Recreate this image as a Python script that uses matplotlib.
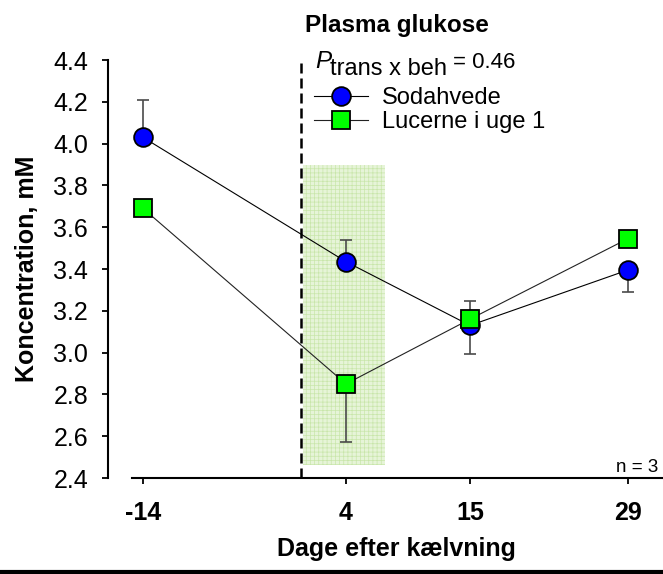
import matplotlib
matplotlib.use("Agg")
import matplotlib.pyplot as plt
from matplotlib.lines import Line2D

plt.rcParams['font.family'] = ['Liberation Sans', 'DejaVu Sans']
plt.rcParams['hatch.linewidth'] = 0.5

# data
days = [-14, 4, 15, 29]
day_labels = ['-14', '4', '15', '29']
soda = [4.03, 3.435, 3.13, 3.395]
soda_lo = [0, 0, 0.135, 0.105]
soda_hi = [0.18, 0.105, 0, 0]
lucerne = [3.69, 2.85, 3.16, 3.545]
luc_lo = [0, 0.28, 0, 0]
luc_hi = [0, 0, 0.085, 0]
yticks = [2.4, 2.6, 2.8, 3.0, 3.2, 3.4, 3.6, 3.8, 4.0, 4.2, 4.4]

# lucerne period (shaded) and calving day (dashed)
band_x = [0.2, 7.5]
band_y = [2.46, 3.9]
calving = 0

fig = plt.figure(figsize=(6.63, 5.74), dpi=100)
ax = fig.add_axes([131.7/663, 96/574, 530/663, 418/574])

ax.fill_between(band_x, band_y[0], band_y[1], facecolor='#e6f4d8',
                edgecolor='#c8e6aa', hatch='++++', linewidth=0, zorder=0)
ax.axvline(calving, color='black', lw=1.8, dashes=(4, 2), zorder=1)

ax.errorbar(days, soda, yerr=[soda_lo, soda_hi], fmt='none', ecolor='#4a4a4a',
            elinewidth=1.2, capsize=4.5, capthick=1.2, zorder=2)
ax.errorbar(days, lucerne, yerr=[luc_lo, luc_hi], fmt='none', ecolor='#4a4a4a',
            elinewidth=1.2, capsize=4.5, capthick=1.2, zorder=2)

l1, = ax.plot(days, soda, color='black', lw=0.8, marker='o', ms=13.5,
              mfc='#0000ff', mec='black', mew=1.3, zorder=3, label='Sodahvede')
l2, = ax.plot(days, lucerne, color='#222222', lw=0.8, marker='s', ms=12.3,
              mfc='#00ff00', mec='black', mew=1.3, zorder=4, label='Lucerne i uge 1')

ax.set_xlim(-15, 32)
ax.set_ylim(2.4, 4.4)
ax.set_xticks(days)
ax.set_xticklabels(day_labels, fontweight='bold')
ax.set_yticks(yticks)
ax.set_yticklabels(['%.1f' % v for v in yticks])

ax.spines['top'].set_visible(False)
ax.spines['right'].set_visible(False)
ax.spines['left'].set_position(('outward', 17))
ax.spines['left'].set_linewidth(1.5)
ax.spines['bottom'].set_linewidth(1.5)
ax.tick_params(axis='y', direction='out', length=4.3, width=1.3, pad=10, labelsize=18)
ax.tick_params(axis='x', direction='out', length=4.3, width=1.3, pad=12, labelsize=18)

ax.set_ylabel('Koncentration, mM', fontsize=18, fontweight='bold', labelpad=10)
ax.set_xlabel('Dage efter kælvning', fontsize=18, fontweight='bold', labelpad=9)
ax.set_title('Plasma glukose', fontsize=17.5, fontweight='bold', pad=20)

# P_trans x beh = 0.46
ax.text(0.3458, 0.981, 'P', style='italic', transform=ax.transAxes,
        fontsize=17.5, va='baseline', ha='left')
ax.text(0.3735, 0.964, 'trans x beh', transform=ax.transAxes,
        fontsize=17, va='baseline', ha='left')
ax.text(0.607, 0.982, '= 0.46', transform=ax.transAxes,
        fontsize=16, va='baseline', ha='left')

ax.legend(handles=[l1, l2], loc='upper left', bbox_to_anchor=(0.344, 0.935),
          frameon=False, fontsize=17, handlelength=2.3, handletextpad=0.58,
          labelspacing=0.08, borderpad=0, borderaxespad=0)
ax.text(0.993, 0.015, 'n = 3', transform=ax.transAxes, fontsize=13.5,
        ha='right', va='baseline')

fig.add_artist(Line2D([0, 1], [0.003, 0.003], color='black', lw=3,
                      transform=fig.transFigure))

fig.savefig('out.png', dpi=100)
